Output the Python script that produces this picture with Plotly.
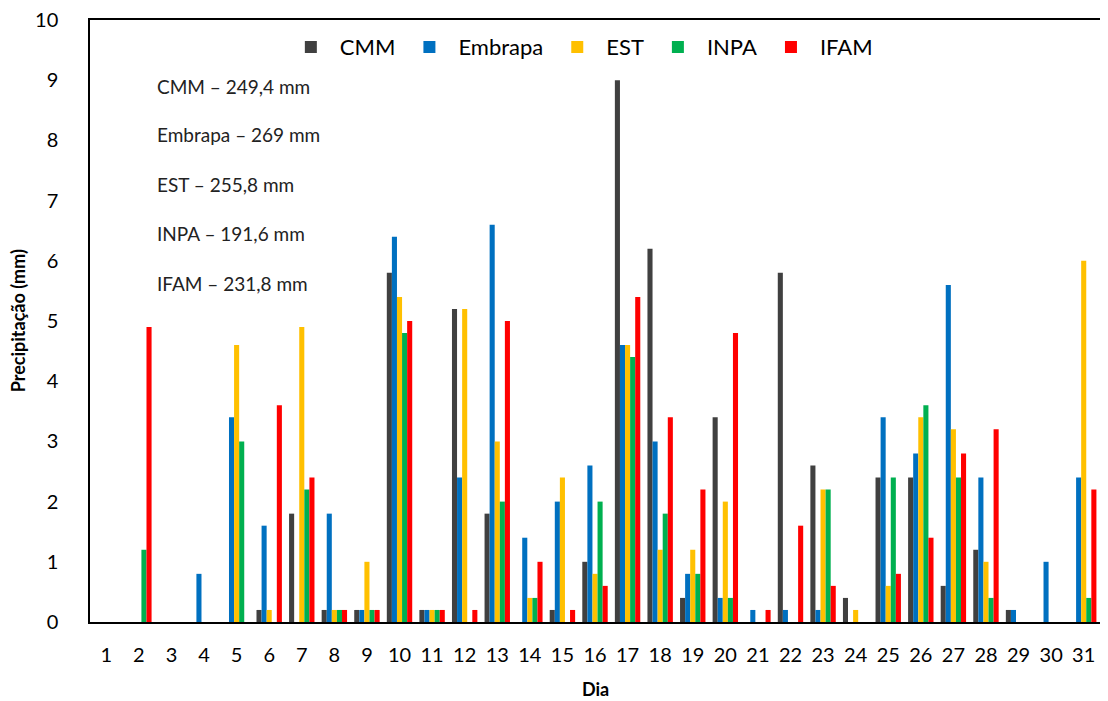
import plotly.graph_objects as go

dias = [str(d) for d in range(1, 32)]

cmm = [0, 0, 0, 0, 0, 0.2, 1.8, 0.2, 0.2, 5.8, 0.2, 5.2, 1.8, 0, 0.2, 1.0,
       9.0, 6.2, 0.4, 3.4, 0, 5.8, 2.6, 0.4, 2.4, 2.4, 0.6, 1.2, 0.2, 0, 0]
embrapa = [0, 0, 0, 0.8, 3.4, 1.6, 0, 1.8, 0.2, 6.4, 0.2, 2.4, 6.6, 1.4, 2.0, 2.6,
           4.6, 3.0, 0.8, 0.4, 0.2, 0.2, 0.2, 0, 3.4, 2.8, 5.6, 2.4, 0.2, 1.0, 2.4]
est = [0, 0, 0, 0, 4.6, 0.2, 4.9, 0.2, 1.0, 5.4, 0.2, 5.2, 3.0, 0.4, 2.4, 0.8,
       4.6, 1.2, 1.2, 2.0, 0, 0, 2.2, 0.2, 0.6, 3.4, 3.2, 1.0, 0, 0, 6.0]
inpa = [0, 1.2, 0, 0, 3.0, 0, 2.2, 0.2, 0.2, 4.8, 0.2, 0, 2.0, 0.4, 0, 2.0,
        4.4, 1.8, 0.8, 0.4, 0, 0, 2.2, 0, 2.4, 3.6, 2.4, 0.4, 0, 0, 0.4]
ifam = [0, 4.9, 0, 0, 0, 3.6, 2.4, 0.2, 0.2, 5.0, 0.2, 0.2, 5.0, 1.0, 0.2, 0.6,
        5.4, 3.4, 2.2, 4.8, 0.2, 1.6, 0.6, 0, 0.8, 1.4, 2.8, 3.2, 0, 0, 2.2]

series_names = ["CMM", "Embrapa", "EST", "INPA", "IFAM"]
series_values = [cmm, embrapa, est, inpa, ifam]
colors = ["#404040", "#0070C0", "#FFC000", "#00B050", "#FF0000"]

totais = ["CMM – 249,4 mm", "Embrapa – 269 mm", "EST – 255,8 mm",
          "INPA – 191,6 mm", "IFAM – 231,8 mm"]

FONT = "Lato, 'Open Sans', sans-serif"

fig = go.Figure()
for name, vals, col in zip(series_names, series_values, colors):
    fig.add_trace(go.Bar(x=dias, y=vals, name=name, marker_color=col,
                         marker_line_width=0))

ys = [0.889, 0.809, 0.726, 0.645, 0.563]
for txt, yy in zip(totais, ys):
    fig.add_annotation(text=txt, xref="paper", yref="paper", x=0.064, y=yy,
                       xanchor="left", yanchor="middle", showarrow=False,
                       font=dict(size=19, color="#222222", family=FONT))

fig.add_annotation(text="<b>Dia</b>", xref="paper", yref="paper", x=0.5, y=-0.112,
                   xanchor="center", yanchor="middle", showarrow=False,
                   font=dict(size=18, color="#000000", family=FONT))
fig.add_annotation(text="<b>Precipitação (mm)</b>", xref="paper", yref="paper",
                   x=-0.071, y=0.5, xanchor="center", yanchor="middle",
                   textangle=-90, showarrow=False,
                   font=dict(size=18, color="#000000", family=FONT))

fig.update_layout(
    width=1100, height=693,
    margin=dict(l=82, r=8, t=12, b=79),
    plot_bgcolor="white", paper_bgcolor="white",
    barmode="group", bargap=0.22, bargroupgap=0,
    font=dict(family=FONT, size=20, color="#000000"),
    legend=dict(orientation="h", x=0.485, xanchor="center", y=0.955,
                yanchor="middle", font=dict(size=22), bgcolor="rgba(0,0,0,0)",
                itemwidth=48, tracegroupgap=0),
    xaxis=dict(showline=True, linecolor="#000000", linewidth=1.5, mirror=True,
               ticks="", showgrid=False, ticklabelstandoff=14,
               tickfont=dict(size=20), automargin=False,
               ticklabeloverflow="allow"),
    yaxis=dict(range=[0, 10], dtick=1, showline=True, linecolor="#000000",
               linewidth=1.5, mirror=True, ticks="", showgrid=False,
               ticklabelstandoff=26, tickfont=dict(size=20), zeroline=False,
               automargin=False, ticklabeloverflow="allow"),
)

fig.write_html("out.html")
